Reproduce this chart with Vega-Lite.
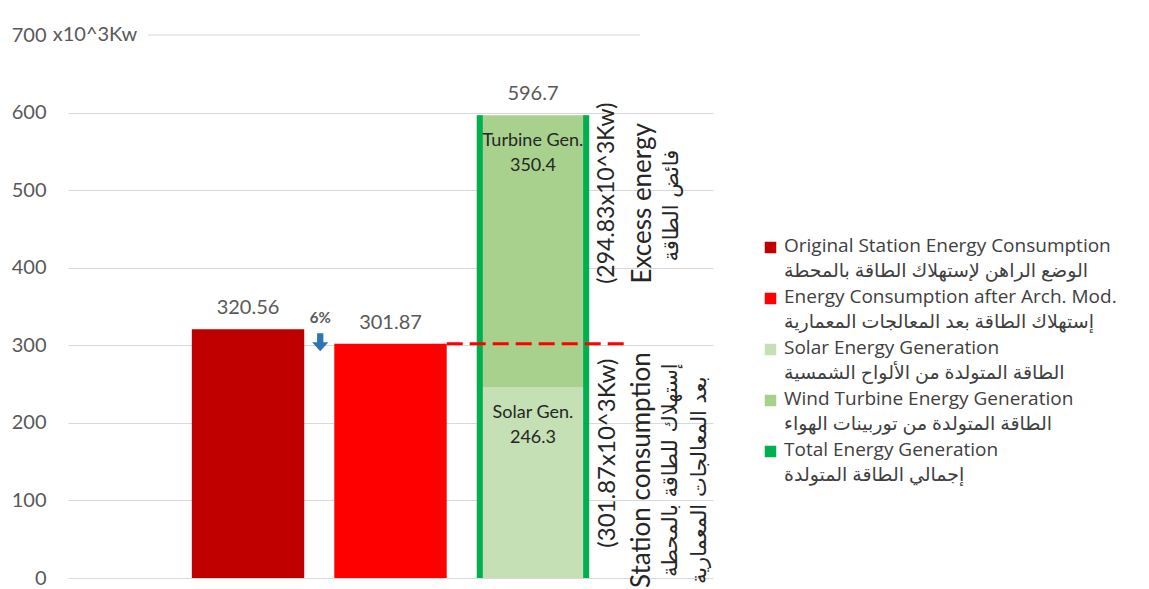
{
  "$schema": "https://vega.github.io/schema/vega-lite/v6.json",
  "width": 645,
  "height": 543,
  "padding": {"left": 11, "top": 25, "right": 5, "bottom": 0},
  "autosize": {"type": "pad"},
  "background": "white",
  "config": {
    "view": {"stroke": null},
    "font": "Lato, 'DejaVu Sans'",
    "text": {"font": "Lato, 'DejaVu Sans'"}
  },
  "data": {
    "values": [
      {"cat": "Original", "kind": "orig", "series": "Original Station Energy Consumption|الوضع الراهن لإستهلاك الطاقة بالمحطة", "value": 320.56},
      {"cat": "After", "kind": "after", "series": "Energy Consumption after Arch. Mod.|إستهلاك الطاقة بعد المعالجات المعمارية", "value": 301.87},
      {"cat": "Generation", "kind": "solar", "name": "Solar Gen.", "series": "Solar Energy Generation|الطاقة المتولدة من الألواح الشمسية", "value": 246.3},
      {"cat": "Generation", "kind": "wind", "name": "Turbine Gen.", "series": "Wind Turbine Energy Generation|الطاقة المتولدة من توربينات الهواء", "value": 350.4},
      {"cat": "Generation", "kind": "total", "series": "Total Energy Generation|إجمالي الطاقة المتولدة", "value": 596.7}
    ]
  },
  "layer": [
    {
      "transform": [
        {"filter": "datum.kind != 'total'"},
        {"stack": "value", "groupby": ["cat"], "sort": [{"field": "series", "order": "ascending"}], "as": ["v0", "v1"]}
      ],
      "mark": {"type": "bar"},
      "encoding": {
        "x": {"field": "cat", "type": "nominal", "axis": null,
              "scale": {"domain": ["Original", "After", "Generation"], "paddingInner": 0.211, "paddingOuter": 0.869}},
        "y": {"field": "v1", "type": "quantitative", "title": null,
              "scale": {"domain": [0, 700], "nice": false},
              "axis": {"values": [0, 100, 200, 300, 400, 500, 600, 700], "domain": false, "ticks": false,
                       "labelPadding": 22, "labelFontSize": 20, "labelColor": "#595959", "labelFont": "Lato",
                       "gridColor": {"condition": {"test": "datum.value == 700", "value": "transparent"}, "value": "#D9D9D9"},
                       "gridWidth": 1, "title": null}},
        "y2": {"field": "v0"},
        "color": {
          "field": "series", "type": "nominal",
          "scale": {
            "domain": [
              "Original Station Energy Consumption|الوضع الراهن لإستهلاك الطاقة بالمحطة",
              "Energy Consumption after Arch. Mod.|إستهلاك الطاقة بعد المعالجات المعمارية",
              "Solar Energy Generation|الطاقة المتولدة من الألواح الشمسية",
              "Wind Turbine Energy Generation|الطاقة المتولدة من توربينات الهواء",
              "Total Energy Generation|إجمالي الطاقة المتولدة"
            ],
            "range": ["#C00000", "#FF0000", "#C5E0B4", "#A9D18E", "#00B050"]
          },
          "legend": {
            "title": null, "orient": "none", "legendX": 693, "legendY": 203,
            "direction": "vertical", "columns": 1,
            "labelExpr": "split(datum.label, '|')",
            "labelFont": "'Open Sans', 'DejaVu Sans'", "labelFontSize": 19, "labelColor": "#404040",
            "labelLimit": 600, "symbolType": "square", "symbolSize": 100,
            "rowPadding": 6, "labelOffset": 4, "labelBaseline": "top", "padding": 0,
            "encode": {
              "labels": {"update": {"dy": {"value": -11}, "lineHeight": {"value": 25}}},
              "symbols": {"update": {"fill": {"scale": "color", "field": "value"}, "stroke": {"value": "transparent"}, "opacity": {"value": 1}}}
            }
          }
        }
      }
    },
    {
      "data": {"values": [{}]},
      "mark": {"type": "rule", "color": "#D9D9D9", "strokeWidth": 1},
      "encoding": {
        "x": {"datum": "Original", "bandPosition": -0.39},
        "x2": {"datum": "Generation", "bandPosition": 1.455},
        "y": {"datum": 700}
      }
    },
    {
      "transform": [{"filter": "datum.kind == 'total'"}],
      "mark": {"type": "rule", "strokeWidth": 6},
      "encoding": {
        "x": {"field": "cat", "type": "nominal", "bandPosition": 0.027},
        "y": {"field": "value", "type": "quantitative", "title": null},
        "y2": {"datum": 0},
        "color": {"field": "series", "type": "nominal"}
      }
    },
    {
      "transform": [{"filter": "datum.kind == 'total'"}],
      "mark": {"type": "rule", "strokeWidth": 6},
      "encoding": {
        "x": {"field": "cat", "type": "nominal", "bandPosition": 0.973},
        "y": {"field": "value", "type": "quantitative", "title": null},
        "y2": {"datum": 0},
        "color": {"field": "series", "type": "nominal"}
      }
    },
    {
      "transform": [{"filter": "datum.kind == 'after'"}],
      "mark": {"type": "rule", "color": "#FF0000", "strokeWidth": 3, "strokeDash": [16, 7]},
      "encoding": {
        "x": {"datum": "After", "bandPosition": 1},
        "x2": {"datum": "Generation", "bandPosition": 1.33},
        "y": {"field": "value", "type": "quantitative", "title": null}
      }
    },
    {
      "transform": [{"filter": "datum.kind != 'solar' && datum.kind != 'wind'"}],
      "mark": {"type": "text", "baseline": "bottom", "dy": -11, "fontSize": 20, "color": "#595959"},
      "encoding": {
        "x": {"field": "cat", "type": "nominal"},
        "y": {"field": "value", "type": "quantitative", "title": null},
        "text": {"field": "value", "type": "quantitative"}
      }
    },
    {
      "transform": [
        {"filter": "datum.kind == 'solar' || datum.kind == 'wind'"},
        {"stack": "value", "groupby": ["cat"], "sort": [{"field": "series", "order": "ascending"}], "as": ["v0", "v1"]}
      ],
      "mark": {"type": "text", "baseline": "middle", "dy": 26, "fontSize": 18, "color": "#262626"},
      "encoding": {
        "x": {"field": "cat", "type": "nominal"},
        "y": {"field": "v1", "type": "quantitative", "title": null},
        "text": {"field": "name", "type": "nominal"}
      }
    },
    {
      "transform": [
        {"filter": "datum.kind == 'solar' || datum.kind == 'wind'"},
        {"stack": "value", "groupby": ["cat"], "sort": [{"field": "series", "order": "ascending"}], "as": ["v0", "v1"]}
      ],
      "mark": {"type": "text", "baseline": "middle", "dy": 51, "fontSize": 18, "color": "#262626"},
      "encoding": {
        "x": {"field": "cat", "type": "nominal"},
        "y": {"field": "v1", "type": "quantitative", "title": null},
        "text": {"field": "value", "type": "quantitative"}
      }
    },
    {
      "data": {"values": [{}]},
      "mark": {"type": "text", "text": "x10^3Kw", "align": "left", "baseline": "middle", "fontSize": 20, "color": "#595959"},
      "encoding": {
        "x": {"datum": "Original", "bandPosition": -1.237},
        "y": {"datum": 700}
      }
    },
    {
      "data": {"values": [{}]},
      "mark": {"type": "text", "text": "6%", "align": "center", "baseline": "middle", "fontSize": 15, "fontWeight": "bold", "color": "#595959"},
      "encoding": {
        "x": {"datum": "After", "bandPosition": -0.125},
        "y": {"datum": 335}
      }
    },
    {
      "data": {"values": [{}]},
      "mark": {"type": "point", "shape": "M-0.35,-1L0.35,-1L0.35,0L0.9,0L0,1L-0.9,0L-0.35,0Z", "filled": true, "size": 324, "color": "#2E75B6", "opacity": 1},
      "encoding": {
        "x": {"datum": "After", "bandPosition": -0.125},
        "y": {"datum": 304}
      }
    },
    {
      "data": {"values": [{}]},
      "mark": {"type": "text", "text": "(294.83x10^3Kw)", "angle": 270, "align": "center", "baseline": "middle", "fontSize": 23, "color": "#262626"},
      "encoding": {"x": {"datum": "Generation", "bandPosition": 1.157}, "y": {"datum": 496}}
    },
    {
      "data": {"values": [{}]},
      "mark": {"type": "text", "text": "Excess energy", "angle": 270, "align": "center", "baseline": "middle", "fontSize": 26, "color": "#262626"},
      "encoding": {"x": {"datum": "Generation", "bandPosition": 1.477}, "y": {"datum": 483}}
    },
    {
      "data": {"values": [{}]},
      "mark": {"type": "text", "text": "فائض الطاقة", "angle": 270, "align": "center", "baseline": "middle", "fontSize": 21, "color": "#262626", "font": "DejaVu Sans"},
      "encoding": {"x": {"datum": "Generation", "bandPosition": 1.735}, "y": {"datum": 480}}
    },
    {
      "data": {"values": [{}]},
      "mark": {"type": "text", "text": "(301.87x10^3Kw)", "angle": 270, "align": "center", "baseline": "middle", "fontSize": 24, "color": "#262626"},
      "encoding": {"x": {"datum": "Generation", "bandPosition": 1.165}, "y": {"datum": 161}}
    },
    {
      "data": {"values": [{}]},
      "mark": {"type": "text", "text": "Station consumption", "angle": 270, "align": "center", "baseline": "middle", "fontSize": 26, "color": "#262626"},
      "encoding": {"x": {"datum": "Generation", "bandPosition": 1.468}, "y": {"datum": 139}}
    },
    {
      "data": {"values": [{}]},
      "mark": {"type": "text", "text": "إستهلاك للطاقة بالمحطة", "angle": 270, "align": "center", "baseline": "middle", "fontSize": 21, "color": "#262626", "font": "DejaVu Sans"},
      "encoding": {"x": {"datum": "Generation", "bandPosition": 1.726}, "y": {"datum": 139}}
    },
    {
      "data": {"values": [{}]},
      "mark": {"type": "text", "text": "بعد المعالجات المعمارية", "angle": 270, "align": "center", "baseline": "middle", "fontSize": 21, "color": "#262626", "font": "DejaVu Sans"},
      "encoding": {"x": {"datum": "Generation", "bandPosition": 1.984}, "y": {"datum": 126}}
    }
  ]
}
